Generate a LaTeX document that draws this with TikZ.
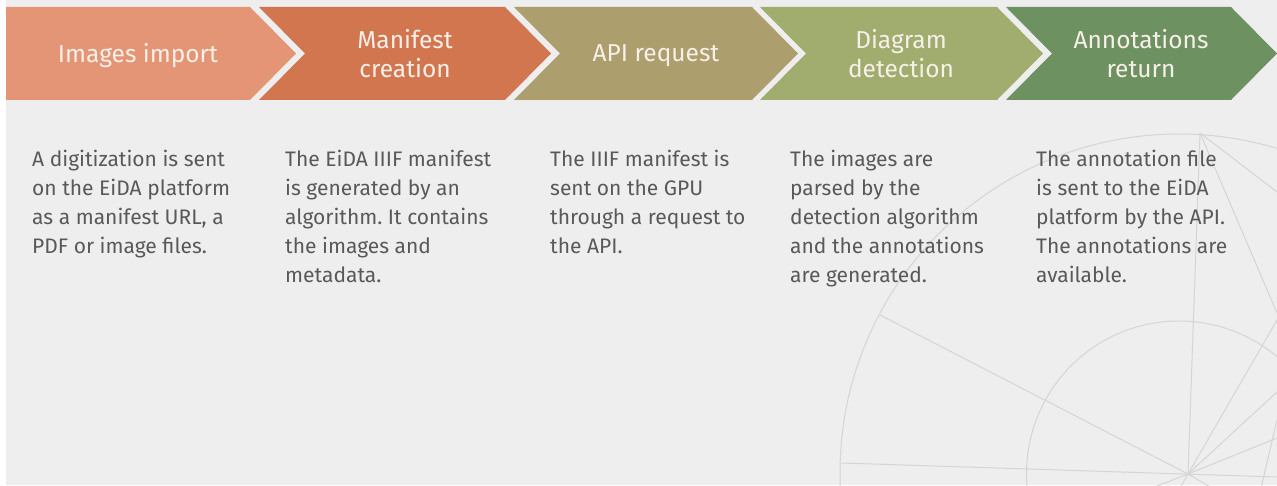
\documentclass[tikz,border=0pt]{standalone}
\usepackage{fontspec}
\setmainfont{Fira Sans}
\frenchspacing

\definecolor{bgcol}{HTML}{EEEEEE}
\definecolor{importcol}{HTML}{E39575}
\definecolor{manifestcol}{HTML}{D27650}
\definecolor{requestcol}{HTML}{AD9E6D}
\definecolor{detectcol}{HTML}{A0AD6F}
\definecolor{returncol}{HTML}{6D9161}
\definecolor{labelcol}{HTML}{F7F0E8}
\definecolor{notecol}{HTML}{595959}
\definecolor{decocol}{HTML}{D5D5D5}

\tikzset{
	steplabel/.style={text=labelcol, align=center, inner sep=0pt, font=\fontsize{24.5}{29}\selectfont},
	stepnote/.style={text=notecol, align=left, anchor=north west, inner sep=0pt, font=\fontsize{21}{29}\selectfont},
	deco/.style={draw=decocol, line width=1pt},
}

\begin{document}
\begin{tikzpicture}[x=1pt, y=-1pt]
		\useasboundingbox (0,0) rectangle (1277,486);
		\fill[white] (0,0) rectangle (1277,486);
		\fill[bgcol] (6,0) rectangle (1277,485);

		% background sketch
		\begin{scope}
			\clip (6,0) rectangle (1277,485);
			\coordinate (hub) at (1188,474);
			\coordinate (apex) at (1200,133);
			\draw[deco] (1179,473) circle [radius=339pt];
			\draw[deco] (1179,473.5) circle [radius=152.5pt];
			\draw[deco] (apex) -- (hub);
			\draw[deco] (apex) -- (1277,192);
			\draw[deco] (apex) -- (1277,313);
			\draw[deco] (1277,320) -- (hub) -- (1180,488);
			\draw[deco] (1277,392) -- (hub);
			\draw[deco] (1277,438) -- (hub) -- (1152,488);
			\draw[deco] (841,463) -- (1277,477);
			\draw[deco] (880,315) -- (hub) -- (1212,488);
			\draw[deco] (1277,420) -- (1261,488);
		\end{scope}

		% chevrons
		\fill[importcol] (6,7) -- (250,7) -- (296,53.5) -- (250,100) -- (6,100) -- cycle;
		\fill[manifestcol] (259,7) -- (505,7) -- (551,53.5) -- (505,100) -- (259,100) -- (305,53.5) -- cycle;
		\fill[requestcol] (514,7) -- (752,7) -- (798,53.5) -- (752,100) -- (514,100) -- (560,53.5) -- cycle;
		\fill[detectcol] (760,7) -- (997,7) -- (1043,53.5) -- (997,100) -- (760,100) -- (806,53.5) -- cycle;
		\fill[returncol] (1006,7) -- (1231,7) -- (1277,53.5) -- (1231,100) -- (1006,100) -- (1052,53.5) -- cycle;

		\node (import) [steplabel] at (138,56) {Images import};
		\node (manifest) [steplabel] at (405,54) {Manifest\\creation};
		\node (request) [steplabel] at (656,56) {API request};
		\node (detect) [steplabel] at (901,54) {Diagram\\detection};
		\node (return) [steplabel] at (1141,54) {Annotations\\return};

		\node (importnote) [stepnote] at (32,150) {A digitization is sent\\on the EiDA platform\\as a manifest URL, a\\PDF or image files.};
		\node (manifestnote) [stepnote] at (285,150) {The EiDA IIIF manifest\\is generated by an\\algorithm. It contains\\the images and\\metadata.};
		\node (requestnote) [stepnote] at (550,150) {The IIIF manifest is\\sent on the GPU\\through a request to\\the API.};
		\node (detectnote) [stepnote] at (790,150) {The images are\\parsed by the\\detection algorithm\\and the annotations\\are generated.};
		\node (returnnote) [stepnote] at (1036,150) {The annotation file\\is sent to the EiDA\\platform by the API.\\The annotations are\\available.};

	\end{tikzpicture}
\end{document}
